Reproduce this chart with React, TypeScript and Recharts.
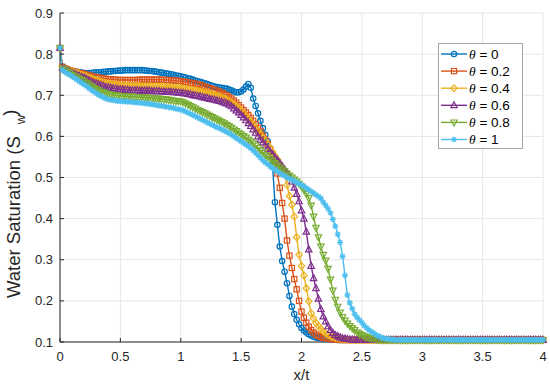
import React from 'react';
import { LineChart, Line, XAxis, YAxis, CartesianGrid, Legend } from 'recharts';

const FONT = '"Liberation Sans", Arial, Helvetica, sans-serif';

// x/t sample points
const xt = [
  0, 0.02, 0.04, 0.06, 0.08, 0.1, 0.12, 0.14, 0.16, 0.18,
  0.2, 0.22, 0.24, 0.26, 0.28, 0.3, 0.32, 0.34, 0.36, 0.38,
  0.4, 0.42, 0.44, 0.46, 0.48, 0.5, 0.52, 0.54, 0.56, 0.58,
  0.6, 0.62, 0.64, 0.66, 0.68, 0.7, 0.72, 0.74, 0.76, 0.78,
  0.8, 0.82, 0.84, 0.86, 0.88, 0.9, 0.92, 0.94, 0.96, 0.98,
  1, 1.02, 1.04, 1.06, 1.08, 1.1, 1.12, 1.14, 1.16, 1.18,
  1.2, 1.22, 1.24, 1.26, 1.28, 1.3, 1.32, 1.34, 1.36, 1.38,
  1.4, 1.42, 1.44, 1.46, 1.48, 1.5, 1.52, 1.54, 1.56, 1.58,
  1.6, 1.62, 1.64, 1.66, 1.68, 1.7, 1.72, 1.74, 1.76, 1.78,
  1.8, 1.82, 1.84, 1.86, 1.88, 1.9, 1.92, 1.94, 1.96, 1.98,
  2, 2.02, 2.04, 2.06, 2.08, 2.1, 2.12, 2.14, 2.16, 2.18,
  2.2, 2.22, 2.24, 2.26, 2.28, 2.3, 2.32, 2.34, 2.36, 2.38,
  2.4, 2.42, 2.44, 2.46, 2.48, 2.5, 2.52, 2.54, 2.56, 2.58,
  2.6, 2.62, 2.64, 2.66, 2.68, 2.7, 2.72, 2.74, 2.76, 2.78,
  2.8, 2.82, 2.84, 2.86, 2.88, 2.9, 2.92, 2.94, 2.96, 2.98,
  3, 3.02, 3.04, 3.06, 3.08, 3.1, 3.12, 3.14, 3.16, 3.18,
  3.2, 3.22, 3.24, 3.26, 3.28, 3.3, 3.32, 3.34, 3.36, 3.38,
  3.4, 3.42, 3.44, 3.46, 3.48, 3.5, 3.52, 3.54, 3.56, 3.58,
  3.6, 3.62, 3.64, 3.66, 3.68, 3.7, 3.72, 3.74, 3.76, 3.78,
  3.8, 3.82, 3.84, 3.86, 3.88, 3.9, 3.92, 3.94, 3.96, 3.98,
  4,
];

const theta0 = [
  0.815, 0.770, 0.766, 0.763, 0.761, 0.759, 0.758, 0.757, 0.756, 0.755,
  0.754, 0.754, 0.754, 0.754, 0.755, 0.755, 0.756, 0.756, 0.757, 0.757,
  0.758, 0.758, 0.759, 0.759, 0.760, 0.760, 0.760, 0.761, 0.761, 0.761,
  0.761, 0.761, 0.761, 0.761, 0.761, 0.760, 0.760, 0.759, 0.759, 0.758,
  0.757, 0.756, 0.755, 0.754, 0.753, 0.752, 0.751, 0.750, 0.748, 0.747,
  0.746, 0.744, 0.743, 0.741, 0.740, 0.738, 0.736, 0.734, 0.733, 0.731,
  0.729, 0.727, 0.725, 0.723, 0.721, 0.720, 0.719, 0.718, 0.717, 0.716,
  0.714, 0.712, 0.709, 0.707, 0.707, 0.709, 0.714, 0.721, 0.727, 0.718,
  0.692, 0.674, 0.656, 0.638, 0.620, 0.604, 0.588, 0.570, 0.530, 0.440,
  0.385, 0.332, 0.297, 0.271, 0.243, 0.212, 0.186, 0.168, 0.154, 0.143,
  0.134, 0.128, 0.123, 0.119, 0.116, 0.113, 0.111, 0.110, 0.109, 0.108,
  0.107, 0.107, 0.106, 0.106, 0.106, 0.105, 0.105, 0.105, 0.105, 0.105,
  0.105, 0.105, 0.105, 0.105, 0.105, 0.105, 0.105, 0.105, 0.105, 0.105,
  0.105, 0.105, 0.105, 0.105, 0.105, 0.105, 0.105, 0.105, 0.105, 0.105,
  0.105, 0.105, 0.105, 0.105, 0.105, 0.105, 0.105, 0.105, 0.105, 0.105,
  0.105, 0.105, 0.105, 0.105, 0.105, 0.105, 0.105, 0.105, 0.105, 0.105,
  0.105, 0.105, 0.105, 0.105, 0.105, 0.105, 0.105, 0.105, 0.105, 0.105,
  0.105, 0.105, 0.105, 0.105, 0.105, 0.105, 0.105, 0.105, 0.105, 0.105,
  0.105, 0.105, 0.105, 0.105, 0.105, 0.105, 0.105, 0.105, 0.105, 0.105,
  0.105, 0.105, 0.105, 0.105, 0.105, 0.105, 0.105, 0.105, 0.105, 0.105,
  0.105,
];

const theta02 = [
  0.815, 0.769, 0.765, 0.763, 0.761, 0.759, 0.757, 0.756, 0.754, 0.753,
  0.752, 0.750, 0.748, 0.747, 0.745, 0.744, 0.743, 0.742, 0.741, 0.740,
  0.739, 0.739, 0.738, 0.738, 0.737, 0.737, 0.737, 0.737, 0.737, 0.737,
  0.737, 0.737, 0.737, 0.738, 0.738, 0.738, 0.738, 0.738, 0.738, 0.738,
  0.738, 0.738, 0.738, 0.737, 0.737, 0.737, 0.736, 0.736, 0.735, 0.735,
  0.734, 0.733, 0.732, 0.731, 0.730, 0.729, 0.728, 0.727, 0.725, 0.723,
  0.721, 0.719, 0.717, 0.715, 0.713, 0.711, 0.709, 0.706, 0.703, 0.700,
  0.696, 0.692, 0.687, 0.682, 0.676, 0.670, 0.664, 0.658, 0.652, 0.645,
  0.638, 0.630, 0.621, 0.612, 0.602, 0.592, 0.581, 0.569, 0.556, 0.540,
  0.510, 0.475, 0.438, 0.400, 0.347, 0.310, 0.280, 0.253, 0.228, 0.200,
  0.174, 0.159, 0.147, 0.137, 0.129, 0.123, 0.118, 0.115, 0.112, 0.110,
  0.109, 0.108, 0.107, 0.107, 0.106, 0.106, 0.105, 0.105, 0.105, 0.105,
  0.105, 0.105, 0.105, 0.105, 0.105, 0.105, 0.105, 0.105, 0.105, 0.105,
  0.105, 0.105, 0.105, 0.105, 0.105, 0.105, 0.105, 0.105, 0.105, 0.105,
  0.105, 0.105, 0.105, 0.105, 0.105, 0.105, 0.105, 0.105, 0.105, 0.105,
  0.105, 0.105, 0.105, 0.105, 0.105, 0.105, 0.105, 0.105, 0.105, 0.105,
  0.105, 0.105, 0.105, 0.105, 0.105, 0.105, 0.105, 0.105, 0.105, 0.105,
  0.105, 0.105, 0.105, 0.105, 0.105, 0.105, 0.105, 0.105, 0.105, 0.105,
  0.105, 0.105, 0.105, 0.105, 0.105, 0.105, 0.105, 0.105, 0.105, 0.105,
  0.105, 0.105, 0.105, 0.105, 0.105, 0.105, 0.105, 0.105, 0.105, 0.105,
  0.105,
];

const theta04 = [
  0.815, 0.768, 0.764, 0.762, 0.760, 0.758, 0.756, 0.754, 0.752, 0.750,
  0.748, 0.746, 0.743, 0.741, 0.739, 0.737, 0.735, 0.733, 0.731, 0.730,
  0.729, 0.728, 0.727, 0.726, 0.726, 0.725, 0.725, 0.724, 0.724, 0.724,
  0.723, 0.723, 0.723, 0.723, 0.722, 0.722, 0.722, 0.722, 0.722, 0.721,
  0.721, 0.721, 0.721, 0.721, 0.720, 0.720, 0.720, 0.719, 0.719, 0.719,
  0.718, 0.717, 0.716, 0.715, 0.714, 0.713, 0.712, 0.711, 0.710, 0.709,
  0.707, 0.706, 0.704, 0.703, 0.701, 0.699, 0.697, 0.695, 0.693, 0.690,
  0.686, 0.683, 0.679, 0.674, 0.669, 0.663, 0.657, 0.650, 0.643, 0.636,
  0.629, 0.621, 0.613, 0.605, 0.597, 0.589, 0.580, 0.571, 0.562, 0.553,
  0.544, 0.534, 0.523, 0.508, 0.482, 0.455, 0.434, 0.405, 0.355, 0.312,
  0.285, 0.262, 0.231, 0.199, 0.170, 0.157, 0.146, 0.139, 0.132, 0.126,
  0.121, 0.117, 0.114, 0.112, 0.110, 0.109, 0.108, 0.107, 0.106, 0.106,
  0.105, 0.105, 0.105, 0.105, 0.105, 0.105, 0.105, 0.105, 0.105, 0.105,
  0.105, 0.105, 0.105, 0.105, 0.105, 0.105, 0.105, 0.105, 0.105, 0.105,
  0.105, 0.105, 0.105, 0.105, 0.105, 0.105, 0.105, 0.105, 0.105, 0.105,
  0.105, 0.105, 0.105, 0.105, 0.105, 0.105, 0.105, 0.105, 0.105, 0.105,
  0.105, 0.105, 0.105, 0.105, 0.105, 0.105, 0.105, 0.105, 0.105, 0.105,
  0.105, 0.105, 0.105, 0.105, 0.105, 0.105, 0.105, 0.105, 0.105, 0.105,
  0.105, 0.105, 0.105, 0.105, 0.105, 0.105, 0.105, 0.105, 0.105, 0.105,
  0.105, 0.105, 0.105, 0.105, 0.105, 0.105, 0.105, 0.105, 0.105, 0.105,
  0.105,
];

const theta06 = [
  0.815, 0.767, 0.763, 0.760, 0.757, 0.754, 0.752, 0.749, 0.747, 0.744,
  0.742, 0.739, 0.736, 0.733, 0.730, 0.728, 0.726, 0.724, 0.722, 0.720,
  0.719, 0.718, 0.717, 0.716, 0.715, 0.714, 0.714, 0.713, 0.713, 0.712,
  0.712, 0.712, 0.712, 0.711, 0.711, 0.711, 0.711, 0.711, 0.710, 0.710,
  0.710, 0.710, 0.709, 0.709, 0.708, 0.708, 0.708, 0.707, 0.707, 0.706,
  0.706, 0.705, 0.704, 0.703, 0.702, 0.700, 0.699, 0.698, 0.697, 0.695,
  0.694, 0.693, 0.691, 0.690, 0.689, 0.687, 0.686, 0.684, 0.682, 0.680,
  0.677, 0.673, 0.668, 0.663, 0.658, 0.652, 0.646, 0.639, 0.632, 0.625,
  0.617, 0.609, 0.600, 0.592, 0.585, 0.578, 0.570, 0.563, 0.556, 0.549,
  0.542, 0.535, 0.527, 0.520, 0.512, 0.503, 0.490, 0.475, 0.460, 0.442,
  0.420, 0.400, 0.368, 0.325, 0.285, 0.255, 0.231, 0.205, 0.180, 0.162,
  0.150, 0.138, 0.129, 0.122, 0.117, 0.114, 0.111, 0.109, 0.108, 0.107,
  0.106, 0.106, 0.105, 0.105, 0.105, 0.105, 0.105, 0.105, 0.105, 0.105,
  0.105, 0.105, 0.105, 0.105, 0.105, 0.105, 0.105, 0.105, 0.105, 0.105,
  0.105, 0.105, 0.105, 0.105, 0.105, 0.105, 0.105, 0.105, 0.105, 0.105,
  0.105, 0.105, 0.105, 0.105, 0.105, 0.105, 0.105, 0.105, 0.105, 0.105,
  0.105, 0.105, 0.105, 0.105, 0.105, 0.105, 0.105, 0.105, 0.105, 0.105,
  0.105, 0.105, 0.105, 0.105, 0.105, 0.105, 0.105, 0.105, 0.105, 0.105,
  0.105, 0.105, 0.105, 0.105, 0.105, 0.105, 0.105, 0.105, 0.105, 0.105,
  0.105, 0.105, 0.105, 0.105, 0.105, 0.105, 0.105, 0.105, 0.105, 0.105,
  0.105,
];

const theta08 = [
  0.815, 0.765, 0.761, 0.757, 0.754, 0.750, 0.747, 0.744, 0.740, 0.737,
  0.734, 0.730, 0.726, 0.722, 0.718, 0.715, 0.712, 0.709, 0.707, 0.705,
  0.703, 0.702, 0.701, 0.700, 0.699, 0.699, 0.698, 0.698, 0.697, 0.697,
  0.697, 0.696, 0.696, 0.696, 0.695, 0.695, 0.694, 0.694, 0.693, 0.693,
  0.692, 0.692, 0.691, 0.690, 0.690, 0.689, 0.688, 0.687, 0.686, 0.686,
  0.685, 0.683, 0.680, 0.677, 0.674, 0.671, 0.668, 0.665, 0.662, 0.659,
  0.656, 0.653, 0.650, 0.647, 0.644, 0.641, 0.638, 0.635, 0.632, 0.628,
  0.625, 0.621, 0.617, 0.613, 0.609, 0.605, 0.601, 0.597, 0.592, 0.588,
  0.583, 0.578, 0.572, 0.566, 0.560, 0.555, 0.550, 0.545, 0.540, 0.535,
  0.530, 0.525, 0.520, 0.515, 0.510, 0.505, 0.500, 0.495, 0.490, 0.485,
  0.478, 0.470, 0.461, 0.450, 0.432, 0.405, 0.378, 0.355, 0.332, 0.312,
  0.298, 0.278, 0.252, 0.225, 0.203, 0.186, 0.172, 0.161, 0.152, 0.145,
  0.139, 0.134, 0.129, 0.124, 0.120, 0.117, 0.114, 0.112, 0.110, 0.109,
  0.108, 0.107, 0.106, 0.106, 0.105, 0.105, 0.105, 0.105, 0.105, 0.105,
  0.105, 0.105, 0.105, 0.105, 0.105, 0.105, 0.105, 0.105, 0.105, 0.105,
  0.105, 0.105, 0.105, 0.105, 0.105, 0.105, 0.105, 0.105, 0.105, 0.105,
  0.105, 0.105, 0.105, 0.105, 0.105, 0.105, 0.105, 0.105, 0.105, 0.105,
  0.105, 0.105, 0.105, 0.105, 0.105, 0.105, 0.105, 0.105, 0.105, 0.105,
  0.105, 0.105, 0.105, 0.105, 0.105, 0.105, 0.105, 0.105, 0.105, 0.105,
  0.105, 0.105, 0.105, 0.105, 0.105, 0.105, 0.105, 0.105, 0.105, 0.105,
  0.105,
];

const theta1 = [
  0.815, 0.762, 0.757, 0.753, 0.750, 0.746, 0.742, 0.738, 0.734, 0.730,
  0.726, 0.722, 0.717, 0.713, 0.709, 0.705, 0.701, 0.698, 0.695, 0.692,
  0.690, 0.689, 0.688, 0.687, 0.686, 0.686, 0.685, 0.685, 0.684, 0.684,
  0.683, 0.683, 0.682, 0.682, 0.681, 0.680, 0.680, 0.679, 0.678, 0.677,
  0.676, 0.675, 0.674, 0.673, 0.672, 0.671, 0.670, 0.669, 0.667, 0.666,
  0.665, 0.663, 0.660, 0.658, 0.655, 0.652, 0.649, 0.646, 0.643, 0.640,
  0.637, 0.634, 0.631, 0.628, 0.625, 0.622, 0.620, 0.617, 0.614, 0.611,
  0.608, 0.604, 0.600, 0.596, 0.592, 0.588, 0.584, 0.580, 0.576, 0.571,
  0.566, 0.560, 0.554, 0.548, 0.542, 0.537, 0.532, 0.527, 0.523, 0.519,
  0.515, 0.511, 0.507, 0.504, 0.500, 0.497, 0.494, 0.491, 0.488, 0.485,
  0.482, 0.478, 0.474, 0.470, 0.466, 0.462, 0.458, 0.454, 0.449, 0.440,
  0.432, 0.424, 0.414, 0.398, 0.382, 0.362, 0.342, 0.308, 0.262, 0.214,
  0.195, 0.181, 0.168, 0.160, 0.154, 0.147, 0.140, 0.134, 0.129, 0.125,
  0.121, 0.117, 0.114, 0.111, 0.109, 0.108, 0.107, 0.106, 0.106, 0.105,
  0.105, 0.105, 0.105, 0.105, 0.105, 0.105, 0.105, 0.105, 0.105, 0.105,
  0.105, 0.105, 0.105, 0.105, 0.105, 0.105, 0.105, 0.105, 0.105, 0.105,
  0.105, 0.105, 0.105, 0.105, 0.105, 0.105, 0.105, 0.105, 0.105, 0.105,
  0.105, 0.105, 0.105, 0.105, 0.105, 0.105, 0.105, 0.105, 0.105, 0.105,
  0.105, 0.105, 0.105, 0.105, 0.105, 0.105, 0.105, 0.105, 0.105, 0.105,
  0.105, 0.105, 0.105, 0.105, 0.105, 0.105, 0.105, 0.105, 0.105, 0.105,
  0.105,
];

const thetaLabels = ['0', '0.2', '0.4', '0.6', '0.8', '1'];
const seriesKeys = ['t0', 't02', 't04', 't06', 't08', 't1'];
const seriesColors = ['#0072BD', '#D95319', '#EDB120', '#7E2F8E', '#77AC30', '#4DBEEE'];
const seriesShapes = ['circle', 'square', 'diamond', 'up', 'down', 'star'];

const xTicks = [0, 0.5, 1, 1.5, 2, 2.5, 3, 3.5, 4];
const yTicks = [0.1, 0.2, 0.3, 0.4, 0.5, 0.6, 0.7, 0.8, 0.9];

const rows = xt.map((x, i) => ({
  x,
  t0: theta0[i],
  t02: theta02[i],
  t04: theta04[i],
  t06: theta06[i],
  t08: theta08[i],
  t1: theta1[i],
}));

const Marker = ({ shape, cx, cy, color }: { shape: string; cx: number; cy: number; color: string }) => {
  const st = { fill: 'none', stroke: color, strokeWidth: 1.2 };
  switch (shape) {
    case 'circle':
      return <circle cx={cx} cy={cy} r={2.7} {...st} />;
    case 'square':
      return <rect x={cx - 2.6} y={cy - 2.6} width={5.2} height={5.2} {...st} />;
    case 'diamond':
      return <polygon points={`${cx},${cy - 3.4} ${cx + 3.2},${cy} ${cx},${cy + 3.4} ${cx - 3.2},${cy}`} {...st} />;
    case 'up':
      return <polygon points={`${cx},${cy - 3.6} ${cx + 3.2},${cy + 2.4} ${cx - 3.2},${cy + 2.4}`} {...st} />;
    case 'down':
      return <polygon points={`${cx},${cy + 3.6} ${cx + 3.2},${cy - 2.4} ${cx - 3.2},${cy - 2.4}`} {...st} />;
    default:
      return (
        <path
          d={`M${cx - 3},${cy}H${cx + 3}M${cx},${cy - 3}V${cy + 3}M${cx - 2.2},${cy - 2.2}L${cx + 2.2},${cy + 2.2}M${cx - 2.2},${cy + 2.2}L${cx + 2.2},${cy - 2.2}`}
          {...st}
        />
      );
  }
};

const dotFor = (shape: string, color: string) => (p: any) => (
  <g key={`m-${shape}-${p.index}`}>
    {p.cx == null || p.cy == null ? null : <Marker shape={shape} cx={p.cx} cy={p.cy} color={color} />}
  </g>
);

const renderLegend = () => (
  <div
    style={{
      width: 85,
      height: 106,
      border: '1px solid #a6a6a6',
      background: '#fff',
      boxSizing: 'border-box',
    }}
  >
    <svg width={83} height={104} style={{ display: 'block' }}>
      {thetaLabels.map((v, i) => {
        const y = 10 + i * 17.1;
        return (
          <g key={v}>
            <line x1={2} x2={28} y1={y} y2={y} stroke={seriesColors[i]} strokeWidth={1.4} />
            <Marker shape={seriesShapes[i]} cx={15} cy={y} color={seriesColors[i]} />
            <text x={30} y={y + 4.8} fontSize={13.5} fontFamily={FONT} fill="#000">
              <tspan fontStyle="italic" fontFamily='"Liberation Serif", "DejaVu Serif", serif'>θ</tspan>
              {` = ${v}`}
            </text>
          </g>
        );
      })}
    </svg>
  </div>
);

// rotated y label, subscript w set apart the way the original renders it
const renderYLabel = () => (
  <text
    transform="translate(20, 298) rotate(-90)"
    textAnchor="start"
    fontSize={18.5}
    fontFamily={FONT}
    fill="#262626"
  >
    Water Saturation (S
    <tspan dy={5} dx={12} fontSize={13}>w</tspan>
    <tspan dy={-9} dx={-1}>)</tspan>
  </text>
);

export default function App() {
  return (
    <div style={{ width: 550, height: 386, background: '#fff', position: 'relative' }}>
      <style>{'body{margin:0;}'}</style>
      <LineChart width={550} height={386} data={rows} margin={{ top: 13, right: 7, bottom: 0, left: 0 }}>
        <CartesianGrid stroke="#e6e6e6" />
        <XAxis
          dataKey="x"
          type="number"
          domain={[0, 4]}
          ticks={xTicks}
          interval={0}
          height={44}
          tickSize={-4}
          tickMargin={14}
          axisLine={{ stroke: '#262626' }}
          tickLine={{ stroke: '#262626' }}
          tick={{ fill: '#262626', fontSize: 13, fontFamily: FONT }}
          label={{ value: 'x/t', position: 'insideBottom', offset: 6, fill: '#262626', fontSize: 15, fontFamily: FONT }}
        />
        <YAxis
          type="number"
          domain={[0.1, 0.9]}
          ticks={yTicks}
          interval={0}
          width={60}
          tickSize={-4}
          tickMargin={11}
          axisLine={{ stroke: '#262626' }}
          tickLine={{ stroke: '#262626' }}
          tick={{ fill: '#262626', fontSize: 13, fontFamily: FONT }}
          label={{ content: renderYLabel }}
        />
        {seriesKeys.map((k, i) => (
          <Line
            key={k}
            dataKey={k}
            type="linear"
            stroke={seriesColors[i]}
            strokeWidth={1.4}
            dot={dotFor(seriesShapes[i], seriesColors[i])}
            activeDot={false}
            isAnimationActive={false}
          />
        ))}
        <Legend
          layout="vertical"
          align="center"
          verticalAlign="middle"
          content={renderLegend}
          wrapperStyle={{ position: 'absolute', left: 438, top: 43, width: 85, height: 106, margin: 0, padding: 0 }}
        />
      </LineChart>
    </div>
  );
}
